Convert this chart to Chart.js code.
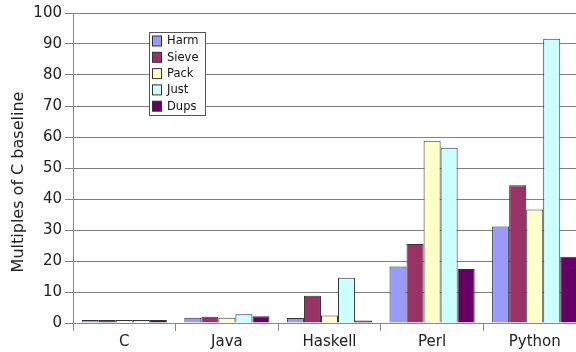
<!DOCTYPE html>
<html>
<head>
<meta charset="utf-8">
<script src="https://cdn.jsdelivr.net/npm/chart.js@4/dist/chart.umd.min.js"></script>
<style>
  html, body { margin: 0; padding: 0; background: #fff; overflow: hidden; }
  #wrap { width: 576px; height: 352px; overflow: hidden; position: relative; }
  #box { width: 586px; height: 352px; position: absolute; left: 0; top: 0; }
</style>
</head>
<body>
<div id="wrap"><div id="box"><canvas id="c"></canvas></div></div>
<script>
const languages = ['C', 'Java', 'Haskell', 'Perl', 'Python'];
const harm  = [1.0, 1.7, 1.6, 18.2, 31.1];
const sieve = [1.0, 2.0, 8.8, 25.5, 44.4];
const pack  = [1.0, 1.7, 2.4, 58.8, 36.6];
const just  = [1.0, 2.8, 14.6, 56.5, 91.7];
const dups  = [1.0, 2.2, 0.8, 17.4, 21.4];
const yTicks = [0, 10, 20, 30, 40, 50, 60, 70, 80, 90, 100];
const yTitle = 'Multiples of C baseline';

const FONT = "'DejaVu Sans', sans-serif";

// Boxed legend sitting inside the plot, top-left
const innerLegend = {
  id: 'innerLegend',
  afterDraw(chart) {
    const ctx = chart.ctx;
    const x0 = 149.5, y0 = 32.5, w = 56, h = 83;
    ctx.save();
    ctx.fillStyle = '#fff';
    ctx.fillRect(x0, y0, w, h);
    ctx.strokeStyle = '#555';
    ctx.lineWidth = 1;
    ctx.strokeRect(x0, y0, w, h);
    ctx.font = "11.5px " + FONT;
    ctx.textBaseline = 'middle';
    chart.data.datasets.forEach((ds, i) => {
      const cy = 41 + i * 16.3;
      ctx.fillStyle = ds.backgroundColor;
      ctx.fillRect(152.5, cy - 5, 9, 10);
      ctx.strokeStyle = '#333';
      ctx.strokeRect(152.5, cy - 5, 9, 10);
      ctx.fillStyle = '#111';
      ctx.fillText(ds.label, 167, cy + 0.5);
    });
    ctx.restore();
  }
};

// Rotated value-axis caption
const axisCaption = {
  id: 'axisCaption',
  afterDraw(chart) {
    const ctx = chart.ctx;
    ctx.save();
    ctx.translate(19, 182);
    ctx.rotate(-Math.PI / 2);
    ctx.font = "16px " + FONT;
    ctx.fillStyle = '#222';
    ctx.textAlign = 'center';
    ctx.textBaseline = 'middle';
    ctx.fillText(yTitle, 0, 0);
    ctx.restore();
  }
};

new Chart(document.getElementById('c'), {
  type: 'bar',
  data: {
    labels: languages,
    datasets: [
      { label: 'Harm',  data: harm,  backgroundColor: '#9999FF' },
      { label: 'Sieve', data: sieve, backgroundColor: '#993366' },
      { label: 'Pack',  data: pack,  backgroundColor: '#FFFFCC' },
      { label: 'Just',  data: just,  backgroundColor: '#CCFFFF' },
      { label: 'Dups',  data: dups,  backgroundColor: '#660066' }
    ].map(d => Object.assign(d, {
      borderColor: '#333',
      borderWidth: 1,
      categoryPercentage: 0.83,
      barPercentage: 1.0
    }))
  },
  options: {
    responsive: true,
    maintainAspectRatio: false,
    animation: false,
    layout: { padding: { top: 13, right: 0, left: 0, bottom: 0 } },
    plugins: {
      legend: { display: false },
      tooltip: { enabled: false }
    },
    scales: {
      x: {
        grid: {
          offset: true,
          drawOnChartArea: false,
          drawTicks: true,
          tickLength: 8,
          color: '#888'
        },
        border: { color: '#888' },
        ticks: {
          color: '#222',
          font: { family: FONT, size: 15 },
          padding: 2
        },
        afterFit(scale) { scale.height = 29; }
      },
      y: {
        min: 0,
        max: 100,
        afterBuildTicks(scale) { scale.ticks = yTicks.map(v => ({ value: v })); },
        grid: {
          color: '#808080',
          tickLength: 8,
          lineWidth: 1
        },
        border: { color: '#888' },
        ticks: {
          color: '#222',
          font: { family: FONT, size: 15 },
          padding: 3
        },
        afterFit(scale) { scale.width = 73; }
      }
    }
  },
  plugins: [innerLegend, axisCaption]
});
</script>
</body>
</html>
